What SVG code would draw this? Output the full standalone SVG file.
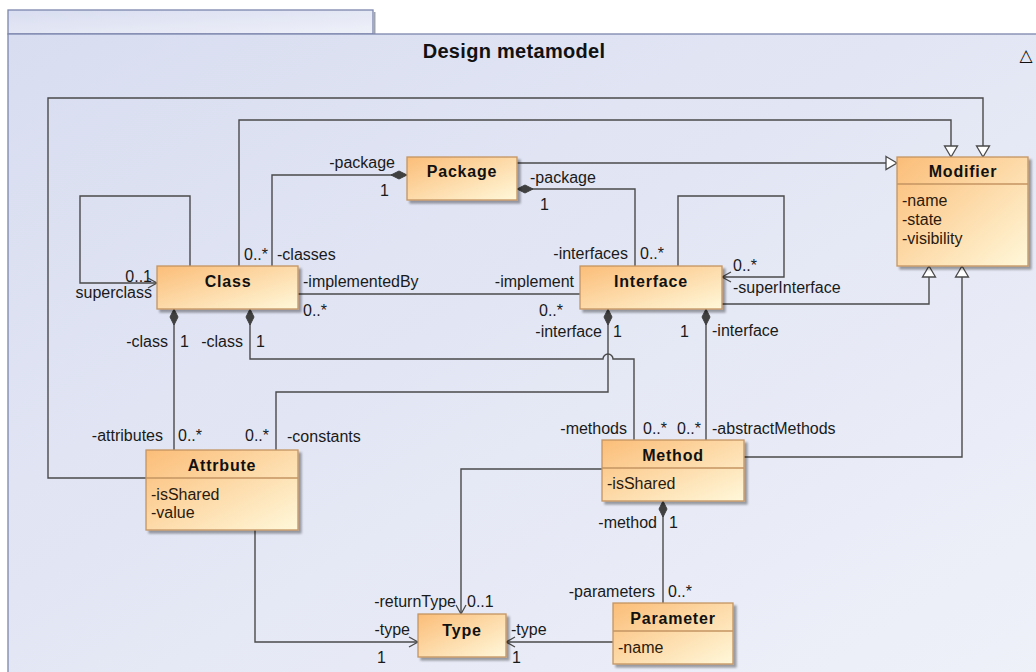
<svg xmlns="http://www.w3.org/2000/svg" width="1036" height="672" viewBox="0 0 1036 672">
<defs>
  <linearGradient id="bg" x1="0" y1="0" x2="1" y2="1">
    <stop offset="0" stop-color="#d8ddf0"/>
    <stop offset="1" stop-color="#eff1f9"/>
  </linearGradient>
  <linearGradient id="nodeFill" x1="0" y1="0" x2="1" y2="1">
    <stop offset="0" stop-color="#fbbd78"/>
    <stop offset="1" stop-color="#fff8da"/>
  </linearGradient>
  <marker id="tri" markerUnits="userSpaceOnUse" markerWidth="14" markerHeight="14" refX="0" refY="0" orient="auto" overflow="visible">
    <path d="M-11,-6.5 L0,0 L-11,6.5 Z" fill="#ffffff" stroke="#4a4a4a" stroke-width="1.3"/>
  </marker>
  <marker id="open" markerUnits="userSpaceOnUse" markerWidth="12" markerHeight="12" refX="0" refY="0" orient="auto" overflow="visible">
    <path d="M-9,-5 L0,0 L-9,5" fill="none" stroke="#4a4a4a" stroke-width="1.3"/>
  </marker>
  <marker id="dia" markerUnits="userSpaceOnUse" markerWidth="18" markerHeight="10" refX="0" refY="0" orient="auto" overflow="visible">
    <path d="M0,0 L8,-4 L16,0 L8,4 Z" fill="#404040" stroke="#404040" stroke-width="1"/>
  </marker>
  <filter id="sh" x="-10%" y="-10%" width="130%" height="140%">
    <feGaussianBlur in="SourceAlpha" stdDeviation="1.2"/>
    <feOffset dx="3" dy="3" result="o"/>
    <feComponentTransfer><feFuncA type="linear" slope="0.35"/></feComponentTransfer>
    <feMerge><feMergeNode/><feMergeNode in="SourceGraphic"/></feMerge>
  </filter>
</defs>
<style>
  .frame { fill: url(#bg); stroke: #7c86ad; stroke-width: 1.3; }
  .box { fill: url(#nodeFill); stroke: #c49462; stroke-width: 1.3; filter: url(#sh); }
  .sep { stroke: #c49462; stroke-width: 1.3; }
  .edge { fill: none; stroke: #4a4a4a; stroke-width: 1.4; }
  .gen { marker-end: url(#tri); }
  .nav { marker-end: url(#open); }
  .comp { marker-start: url(#dia); }
  .name { font-family: "Liberation Sans", Arial, sans-serif; font-weight: bold; font-size: 16px; letter-spacing: 0.8px; fill: #111; text-anchor: middle; }
  .attr { font-family: "Liberation Sans", Arial, sans-serif; font-size: 16px; fill: #2b1a0c; }
  .lbl { font-family: "Liberation Sans", Arial, sans-serif; font-size: 16px; fill: #1a1a1a; }
  .e { text-anchor: end; }
  .title { font-family: "Liberation Sans", Arial, sans-serif; font-weight: bold; font-size: 20px; letter-spacing: 0.3px; fill: #111; text-anchor: middle; }
  .sym { font-family: "DejaVu Sans", sans-serif; font-size: 17px; fill: #111; text-anchor: middle; }
</style>

<g id="frame">
  <rect class="frame" x="8" y="10" width="365" height="24"/>
  <line x1="374.5" y1="12" x2="374.5" y2="34" stroke="#a0a4b0" stroke-width="2"/>
  <rect class="frame" x="8" y="34" width="1040" height="650"/>
  <text class="title" x="514" y="58">Design metamodel</text>
  <text class="sym" x="1026" y="61">△</text>
</g>

<g id="connectors">
  <path class="edge gen" d="M146,478 H48 V98 H983 V157"/>
  <path class="edge gen" d="M239,266 V120 H951 V157"/>
  <path class="edge gen" d="M517,163 H897"/>
  <path class="edge gen" d="M722,304 H929 V266"/>
  <path class="edge gen" d="M744,457 H962 V266"/>
  <path class="edge nav" d="M190,266 V196 H80 V283 H157"/>
  <path class="edge comp" d="M407,175 H272 V266"/>
  <path class="edge comp" d="M517,189 H635 V266"/>
  <path class="edge" d="M298,294 H580"/>
  <path class="edge nav" d="M678,266 V196 H784 V277 H722"/>
  <path class="edge comp" d="M174,309 V450"/>
  <path class="edge comp" d="M250,309 V359 H603 A5,5 0 0 1 613,359 H634 V440"/>
  <path class="edge comp" d="M608,309 V392 H276 V450"/>
  <path class="edge comp" d="M706,309 V440"/>
  <path class="edge nav" d="M602,469 H461 V614"/>
  <path class="edge nav" d="M255,530 V642 H418"/>
  <path class="edge nav" d="M613,642 H506"/>
  <path class="edge comp" d="M663,501 V603"/>
</g>

<g id="labels">
  <text class="lbl e" x="395" y="168">-package</text>
  <text class="lbl" x="380" y="196">1</text>
  <text class="lbl" x="530" y="183">-package</text>
  <text class="lbl" x="540" y="210">1</text>
  <text class="lbl e" x="268" y="260">0..*</text>
  <text class="lbl" x="277" y="260">-classes</text>
  <text class="lbl e" x="628" y="259">-interfaces</text>
  <text class="lbl" x="640" y="259">0..*</text>
  <text class="lbl e" x="152" y="282">0..1</text>
  <text class="lbl e" x="152" y="298">superclass</text>
  <text class="lbl" x="303" y="287">-implementedBy</text>
  <text class="lbl" x="303" y="316">0..*</text>
  <text class="lbl e" x="574" y="287">-implement</text>
  <text class="lbl e" x="563" y="316">0..*</text>
  <text class="lbl e" x="602" y="337">-interface</text>
  <text class="lbl" x="613" y="337">1</text>
  <text class="lbl" x="680" y="337">1</text>
  <text class="lbl" x="712" y="336">-interface</text>
  <text class="lbl" x="733" y="271">0..*</text>
  <text class="lbl" x="733" y="293">-superInterface</text>
  <text class="lbl e" x="168" y="347">-class</text>
  <text class="lbl" x="180" y="347">1</text>
  <text class="lbl e" x="243" y="347">-class</text>
  <text class="lbl" x="256" y="347">1</text>
  <text class="lbl e" x="163" y="441">-attributes</text>
  <text class="lbl" x="178" y="441">0..*</text>
  <text class="lbl e" x="269" y="441">0..*</text>
  <text class="lbl" x="287" y="442">-constants</text>
  <text class="lbl e" x="627" y="434">-methods</text>
  <text class="lbl" x="643" y="434">0..*</text>
  <text class="lbl e" x="701" y="434">0..*</text>
  <text class="lbl" x="712" y="434">-abstractMethods</text>
  <text class="lbl e" x="657" y="528">-method</text>
  <text class="lbl" x="669" y="528">1</text>
  <text class="lbl e" x="456" y="607">-returnType</text>
  <text class="lbl" x="467" y="607">0..1</text>
  <text class="lbl e" x="410" y="635">-type</text>
  <text class="lbl" x="377" y="663">1</text>
  <text class="lbl" x="511" y="635">-type</text>
  <text class="lbl" x="512" y="663">1</text>
  <text class="lbl e" x="655" y="597">-parameters</text>
  <text class="lbl" x="668" y="597">0..*</text>
</g>

<g id="Package">
  <rect class="box" x="407" y="157" width="110" height="43"/>
  <text class="name" x="462" y="177">Package</text>
</g>
<g id="Class">
  <rect class="box" x="157" y="266" width="141" height="43"/>
  <text class="name" x="228" y="287">Class</text>
</g>
<g id="Interface">
  <rect class="box" x="580" y="266" width="142" height="43"/>
  <text class="name" x="651" y="287">Interface</text>
</g>
<g id="Modifier">
  <rect class="box" x="897" y="157" width="131" height="109"/>
  <line class="sep" x1="897" y1="184" x2="1028" y2="184"/>
  <text class="name" x="963" y="177">Modifier</text>
  <text class="attr" x="902" y="206">-name</text>
  <text class="attr" x="902" y="225">-state</text>
  <text class="attr" x="902" y="244">-visibility</text>
</g>
<g id="Attrbute">
  <rect class="box" x="146" y="450" width="152" height="80"/>
  <line class="sep" x1="146" y1="478" x2="298" y2="478"/>
  <text class="name" x="222" y="471">Attrbute</text>
  <text class="attr" x="151" y="500">-isShared</text>
  <text class="attr" x="151" y="518">-value</text>
</g>
<g id="Method">
  <rect class="box" x="602" y="440" width="142" height="61"/>
  <line class="sep" x1="602" y1="468" x2="744" y2="468"/>
  <text class="name" x="673" y="461">Method</text>
  <text class="attr" x="607" y="489">-isShared</text>
</g>
<g id="Type">
  <rect class="box" x="418" y="614" width="88" height="43"/>
  <text class="name" x="462" y="636">Type</text>
</g>
<g id="Parameter">
  <rect class="box" x="613" y="603" width="120" height="61"/>
  <line class="sep" x1="613" y1="631" x2="733" y2="631"/>
  <text class="name" x="673" y="624">Parameter</text>
  <text class="attr" x="618" y="653">-name</text>
</g>
</svg>
